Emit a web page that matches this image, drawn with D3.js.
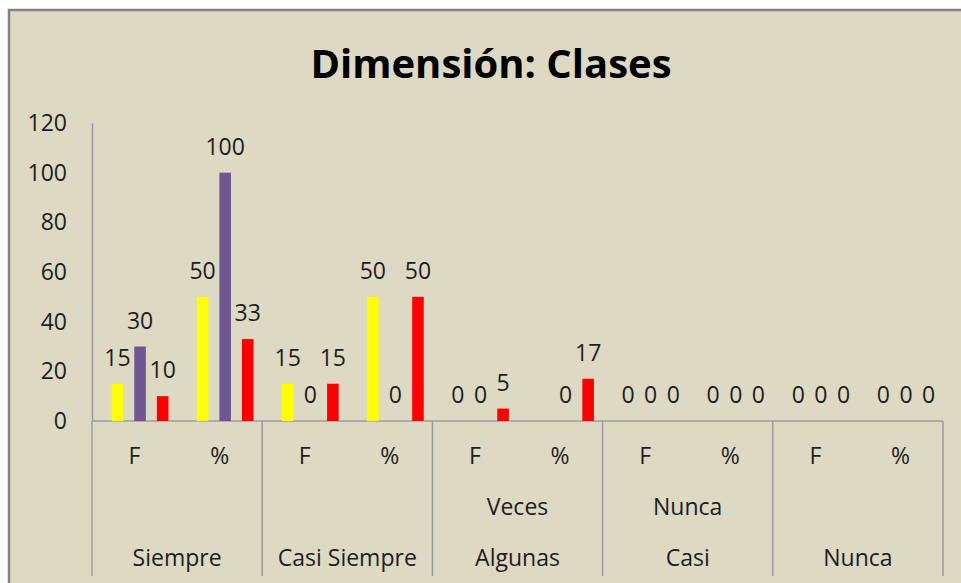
<!DOCTYPE html>
<html><head><meta charset="utf-8">
<script src="https://cdn.jsdelivr.net/npm/d3@7"></script>
<style>
html,body{margin:0;padding:0;background:#fff;}
svg{display:block;}
text{font-family:"Open Sans",sans-serif;fill:#1e1e1e;}
</style></head>
<body>
<svg id="chart" width="961" height="583"></svg>
<script>
const title = "Dimensión: Clases";
const groups = ["Siempre","Casi Siempre","Algunas Veces","Casi Nunca","Nunca"];
const groupLines = [["Siempre"],["Casi Siempre"],["Veces","Algunas"],["Nunca","Casi"],["Nunca"]];
const subLabels = ["F","%"];
const seriesNames = ["S1","S2","S3"];
const seriesColors = ["#ffff00","#6f5891","#ff0000"];
const s1 = [15, 50, 15, 50, 0, null, 0, 0, 0, 0];
const s2 = [30, 100, 0, 0, 0, 0, 0, 0, 0, 0];
const s3 = [10, 33, 15, 50, 5, 17, 0, 0, 0, 0];
const yTicks = [0, 20, 40, 60, 80, 100, 120];

const seriesValues = [s1, s2, s3];
const cats = [];
groups.forEach((g, gi) => subLabels.forEach(s => cats.push(g + "|" + s)));

const svg = d3.select("#chart");
svg.append("rect").attr("x", 9).attr("y", 10).attr("width", 1000).attr("height", 600)
  .attr("fill", "#ddd9c3").attr("stroke", "#838383").attr("stroke-width", 2.5);

svg.append("text").attr("x", 491).attr("y", 78).attr("text-anchor", "middle")
  .style("font-size", "40px").style("font-weight", "bold").style("fill", "#000").text(title);

const pLeft = 92, pRight = 943, pTop = 123, pBottom = 421, axisBottom = 576;
const y = d3.scaleLinear().domain([0, 120]).range([pBottom, pTop]);
const x0 = d3.scaleBand().domain(cats).range([pLeft, pRight]).padding(0);
const xg = d3.scaleBand().domain(groups).range([pLeft, pRight]).padding(0);
const bw = x0.bandwidth();
const x1 = d3.scaleBand().domain(seriesNames)
  .range([bw * 19.7 / 85.15, bw * 76.5 / 85.15]).paddingInner(0.487).paddingOuter(0);

// y axis
const yAxis = d3.axisLeft(y).tickValues(yTicks).tickSize(0).tickPadding(25);
const ya = svg.append("g").attr("transform", `translate(${pLeft},0)`).call(yAxis);
ya.select(".domain").attr("stroke", "#9c9c9c").attr("stroke-width", 1.5);
ya.selectAll("text").style("font-size", "23px").style("font-family", "'Open Sans',sans-serif").attr("fill", "#1e1e1e");

// x axis line
svg.append("line").attr("x1", pLeft).attr("x2", pRight).attr("y1", pBottom).attr("y2", pBottom)
  .attr("stroke", "#9c9c9c").attr("stroke-width", 1.5);
// group dividers
const divs = groups.map(g => xg(g)).concat([pRight]);
svg.selectAll("line.div").data(divs).enter().append("line").attr("class", "div")
  .attr("x1", d => d).attr("x2", d => d).attr("y1", pBottom).attr("y2", axisBottom)
  .attr("stroke", "#9c9c9c").attr("stroke-width", 1.5);

// bars
const barData = [];
seriesValues.forEach((vals, si) => vals.forEach((v, ci) => {
  if (v !== null) barData.push({ s: seriesNames[si], c: cats[ci], v, color: seriesColors[si] });
}));
svg.selectAll("rect.bar").data(barData.filter(d => d.v > 0)).enter().append("rect").attr("class", "bar")
  .attr("x", d => x0(d.c) + x1(d.s)).attr("width", x1.bandwidth())
  .attr("y", d => y(d.v)).attr("height", d => y(0) - y(d.v)).attr("fill", d => d.color);
svg.selectAll("text.lbl").data(barData).enter().append("text").attr("class", "lbl")
  .attr("x", d => x0(d.c) + x1(d.s) + x1.bandwidth() / 2).attr("y", d => y(d.v) - 18)
  .attr("text-anchor", "middle").style("font-size", "23px").text(d => d.v);

// sub labels
svg.selectAll("text.sub").data(cats).enter().append("text").attr("class", "sub")
  .attr("x", d => x0(d) + bw / 2).attr("y", 464).attr("text-anchor", "middle")
  .style("font-size", "23px").text(d => d.split("|")[1]);
// group labels
groups.forEach((g, gi) => {
  const lines = groupLines[gi];
  lines.forEach((ln, li) => {
    svg.append("text").attr("x", xg(g) + xg.bandwidth() / 2)
      .attr("y", 566 - (lines.length - 1 - li) * 51).attr("text-anchor", "middle")
      .style("font-size", "23px").text(ln);
  });
});
</script>
</body></html>
